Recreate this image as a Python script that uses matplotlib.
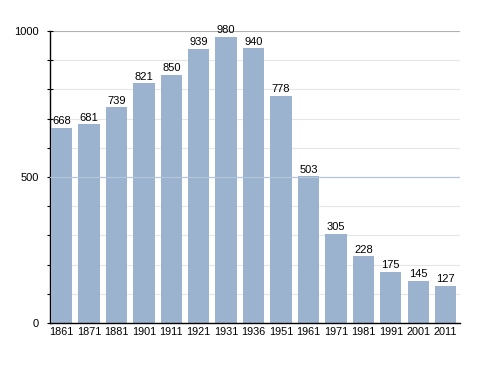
import matplotlib.pyplot as plt
from matplotlib.ticker import MultipleLocator

years = ['1861', '1871', '1881', '1901', '1911', '1921', '1931', '1936',
         '1951', '1961', '1971', '1981', '1991', '2001', '2011']
population = [668, 681, 739, 821, 850, 939, 980, 940, 778, 503, 305, 228, 175, 145, 127]

plt.rcParams['font.family'] = ['Liberation Sans', 'DejaVu Sans']

fig = plt.figure(figsize=(4.88, 3.73), dpi=100)
ax = fig.add_axes([0.1025, 0.134, 0.84, 0.783])

x = range(len(years))
ax.bar(x, population, width=0.78, color='#9bb3cf', zorder=3)
for i, v in enumerate(population):
    ax.text(i, v + 5, str(v), ha='center', va='bottom', fontsize=8, zorder=4)

ax.set_xlim(-0.42, len(years) - 0.48)
ax.set_ylim(0, 1000)
ax.set_xticks(list(x))
ax.set_xticklabels(years, fontsize=7.8)
ax.set_yticks([0, 500, 1000])
ax.set_yticklabels(['0', '500', '1000'], fontsize=8)
ax.yaxis.set_minor_locator(MultipleLocator(100))

ax.grid(axis='y', which='minor', color='#e6e6e6', linewidth=0.8, zorder=0)
ax.grid(axis='y', which='major', color='#b0b0b0', linewidth=0.8, zorder=0)
# the 500 line shows faintly across the bars
ax.axhline(500, color='#b4c6da', linewidth=0.8, zorder=3.5)

ax.tick_params(axis='x', length=0, pad=3)
ax.tick_params(axis='y', which='both', direction='inout', length=4, width=0.8, pad=6)

for side in ['top', 'right']:
    ax.spines[side].set_visible(False)
ax.spines['left'].set_linewidth(1)
ax.spines['bottom'].set_linewidth(1)
ax.spines['bottom'].set_zorder(5)

fig.savefig('out.png', dpi=100, facecolor='white')
